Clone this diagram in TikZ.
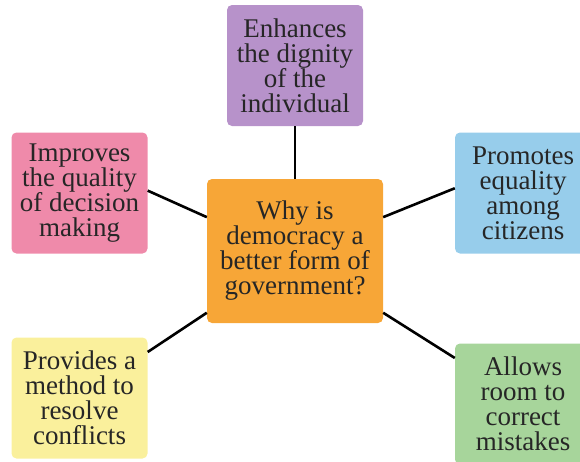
\documentclass[tikz,border=0pt]{standalone}
\usepackage{fontspec}
\setmainfont{Liberation Serif}
\usepackage{xcolor}
\usepackage{tikz}
\definecolor{ink}{HTML}{262626}
\definecolor{lilac}{HTML}{B792CA}
\definecolor{rose}{HTML}{EF8AAA}
\definecolor{sky}{HTML}{97CDEB}
\definecolor{lemon}{HTML}{FAF09C}
\definecolor{mint}{HTML}{A7D59B}
\definecolor{amber}{HTML}{F7A637}
\tikzset{
  box/.style={rectangle, rounded corners=5pt, inner sep=0pt, align=center,
    minimum width=136pt, minimum height=121pt, text=ink,
    font=\fontsize{27}{25}\selectfont},
  link/.style={draw=black, line width=2.6pt},
}

\begin{document}
\begin{tikzpicture}[x=1pt, y=-1pt]
  \clip (0,0) rectangle (580,461);

  \node[box, fill=amber, minimum width=176pt, minimum height=144pt] (ctr) at (295,251)
    {Why is\\democracy a\\better form of\\government?};

  \node[box, fill=lilac] (dig) at (295,65.5) {Enhances\\the dignity\\of the\\individual};
  \node[box, fill=rose]  (dec) at (79.5,193) {Improves\\the quality\\of decision\\making};
  \node[box, fill=sky]   (eq)  at (523,193) {Promotes\\equality\\among\\citizens};
  \node[box, fill=lemon] (con) at (79.5,398) {Provides a\\method to\\resolve\\conflicts};
  \node[box, fill=mint]  (mis) at (523,404) {Allows\\room to\\correct\\mistakes};

  \draw[link] (ctr.north) -- (dig.south);
  \draw[link] (ctr.159) -- (dec.2);
  \draw[link] (ctr.21) -- (eq.176);
  \draw[link] (ctr.215) -- (con.34);
  \draw[link] (ctr.325) -- (mis.146);
\end{tikzpicture}
\end{document}
